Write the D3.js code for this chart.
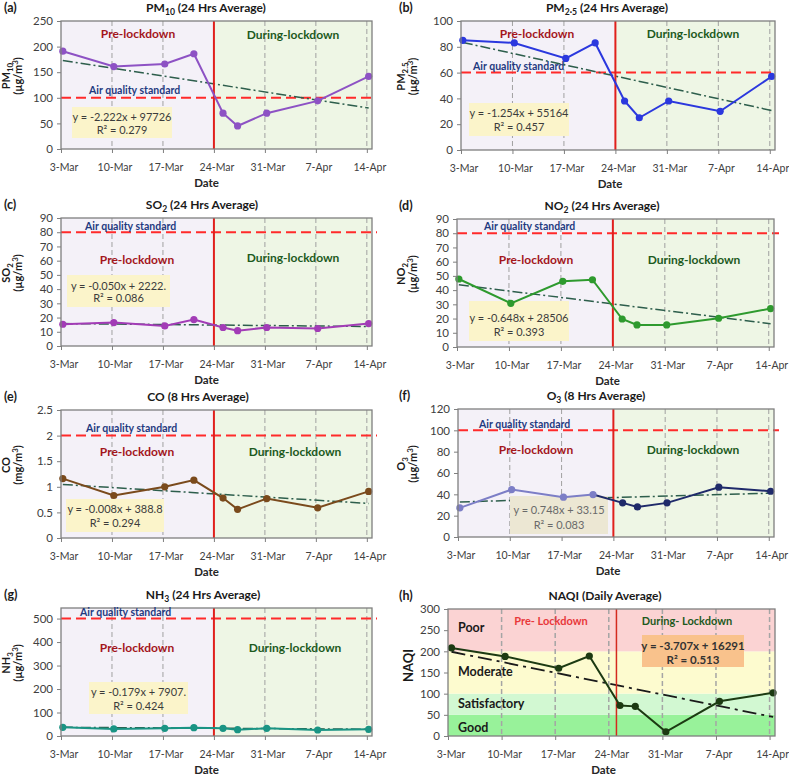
<!DOCTYPE html>
<html><head><meta charset="utf-8">
<script src="https://cdn.jsdelivr.net/npm/d3@7/dist/d3.min.js"></script>
<style>body{margin:0;background:#fff}svg{display:block;font-family:Lato,"Open Sans",sans-serif}</style>
</head><body><svg id="c" width="789" height="776"></svg>
<script>
// ---------- DATA ----------
const dates = ["2020-03-03","2020-03-10","2020-03-17","2020-03-21","2020-03-25","2020-03-27","2020-03-31","2020-04-07","2020-04-14"];
const weekDates = ["2020-03-03","2020-03-10","2020-03-17","2020-03-24","2020-03-31","2020-04-07","2020-04-14"];
const tickLabels = ["3-Mar","10-Mar","17-Mar","24-Mar","31-Mar","7-Apr","14-Apr"];

const pm10 = [191,161,166,186,70,45,70,94,142];
const pm25 = [85,83,71,83,38,25,38,30,57];
const so2  = [15.3,16.5,14.1,18.6,13,10.8,13,12.3,15.8];
const no2  = [47.8,30.7,46.2,47.3,19.7,15.5,15.5,20.2,27];
const co   = [1.16,0.83,1.0,1.13,0.78,0.56,0.77,0.59,0.91];
const o3   = [27.3,44.5,37.3,39.8,32,28.2,32,46.7,42.9];
const nh3  = [37,30,32.5,35.6,32.8,27,32.5,25.6,28.5];
const naqi = [208,188,160,189,72,70,10,82,102];

// trend line values at first and last date
const pm10Trend = [173,80];
const pm25Trend = [83.4,30.6];
const so2Trend  = [15.8,13.7];
const no2Trend  = [43.8,16.4];
const coTrend   = [1.045,0.675];
const o3Trend   = [32.9,41.1];
const nh3Trend  = [37,29];
const naqiTrend = [199,45];

const pm10Ticks = [0,50,100,150,200,250];
const pm25Ticks = [0,20,40,60,80,100];
const so2Ticks  = [0,10,20,30,40,50,60,70,80,90];
const no2Ticks  = [0,10,20,30,40,50,60,70,80,90];
const coTicks   = [0,0.5,1,1.5,2,2.5];
const o3Ticks   = [0,20,40,60,80,100,120];
const nh3Ticks  = [0,100,200,300,400,500];
const naqiTicks = [0,50,100,150,200,250,300];

const standards = {pm10:100, pm25:60, so2:80, no2:80, co:2, o3:100, nh3:500};
const equations = {
  pm10:["y = -2.222x + 97726","R² = 0.279"],
  pm25:["y = -1.254x + 55164","R² = 0.457"],
  so2:["y = -0.050x + 2222.","R² = 0.086"],
  no2:["y = -0.648x + 28506","R² = 0.393"],
  co:["y = -0.008x + 388.8","R² = 0.294"],
  o3:["y = 0.748x  + 33.15","R² = 0.083"],
  nh3:["y = -0.179x + 7907.","R² = 0.424"],
  naqi:["y = -3.707x + 16291","R² = 0.513"]
};
const naqiBands = [
  {name:"Good", lo:0, hi:50, color:"#98f29a"},
  {name:"Satisfactory", lo:50, hi:100, color:"#d2f8d2"},
  {name:"Moderate", lo:100, hi:200, color:"#fdfbcf"},
  {name:"Poor", lo:200, hi:300, color:"#fbd3d3"}
];

// ---------- DRAW ----------
const svg = d3.select("#c");
const parse = d3.utcParse("%Y-%m-%d");
const HOUR = 3600e3;

function rich(sel, parts, size){
  sel.attr("font-size", size);
  let pending = 0;
  parts.forEach(([t,m])=>{
    const ts = sel.append("tspan").text(t);
    let dy = -pending; pending = 0;
    if(m==="sub"){ const s = Math.round(size*0.25); dy += s; pending = s; ts.attr("font-size", size*0.72); }
    else if(m==="sup"){ const s = -Math.round(size*0.35); dy += s; pending = s; ts.attr("font-size", size*0.72); }
    else ts.attr("font-size", size);
    if(dy) ts.attr("dy", dy);
  });
}

const panels = [
 {key:"pm10", lab:"(a)", x0:61,x1:372,y0:21,y1:149, col:0, titleX:206, ymax:250,
  title:[["PM",""],["10","sub"],[" (24 Hrs Average)",""]],
  yl1:[["PM",""],["10","sub"]], yl2:[["(µg/m",""],["3","sup"],[")",""]],
  values:pm10, trend:pm10Trend, ticks:pm10Ticks, color:"#8d52c4",
  pre:[138,38], dur:[293,39], air:[89,94], box:[72,172,107,138], eqY:[121,134], off:6},
 {key:"pm25", lab:"(b)", x0:461,x1:775,y0:21,y1:150, col:395, titleX:607, ymax:100,
  title:[["PM",""],["2·5","sub"],[" (24 Hrs Average)",""]],
  yl1:[["PM",""],["2.5","sub"]], yl2:[["(µg/m",""],["3","sup"],[")",""]],
  values:pm25, trend:pm25Trend, ticks:pm25Ticks, color:"#2b38de",
  pre:[537,38], dur:[693,38], air:[473,70], box:[469,569,103,136], eqY:[117,131], off:6},
 {key:"so2", lab:"(c)", x0:61,x1:372,y0:218,y1:346, col:0, titleX:202, ymax:90,
  title:[["SO",""],["2","sub"],[" (24 Hrs Average)",""]],
  yl1:[["SO",""],["2","sub"]], yl2:[["(µg/m",""],["3","sup"],[")",""]],
  values:so2, trend:so2Trend, ticks:so2Ticks, color:"#a23cb6",
  pre:[137,264], dur:[293,262], air:[85,230], box:[67,170,275,307], eqY:[290,302], off:6},
 {key:"no2", lab:"(d)", x0:457,x1:774,y0:219,y1:347, col:395, titleX:602, ymax:90,
  title:[["NO",""],["2","sub"],[" (24 Hrs Average)",""]],
  yl1:[["NO",""],["2","sub"]], yl2:[["(µg/m",""],["3","sup"],[")",""]],
  values:no2, trend:no2Trend, ticks:no2Ticks, color:"#2e9a2e",
  pre:[536,264], dur:[694,264], air:[484,230], box:[469,569,301,341], eqY:[322,336], off:6},
 {key:"co", lab:"(e)", x0:61,x1:372,y0:410,y1:538, col:0, titleX:198, ymax:2.5,
  title:[["CO (8 Hrs Average)",""]],
  yl1:[["CO",""]], yl2:[["(mg/m",""],["3","sup"],[")",""]],
  values:co, trend:coTrend, ticks:coTicks, color:"#7a4a1c",
  pre:[137,456], dur:[295,456], air:[86,432], box:[66,164,499,532], eqY:[513,527], off:6},
 {key:"o3", lab:"(f)", x0:458,x1:774,y0:409,y1:537, col:395, titleX:596, ymax:120,
  title:[["O",""],["3","sub"],[" (8 Hrs Average)",""]],
  yl1:[["O",""],["3","sub"]], yl2:[["(µg/m",""],["3","sup"],[")",""]],
  values:o3, trend:o3Trend, ticks:o3Ticks, color:"#1f2a6a", preColor:"#7c7ec6",
  pre:[536,454], dur:[693,454], air:[479,428], box:[510,608,496,534], eqY:[514,529], off:6,
  boxFill:"#ece7d3", eqColor:"#6a6a6a"},
 {key:"nh3", lab:"(g)", x0:61,x1:372,y0:608,y1:736, col:0, titleX:203, ymax:545,
  title:[["NH",""],["3","sub"],[" (24 Hrs Average)",""]],
  yl1:[["NH",""],["3","sub"]], yl2:[["(µg/m",""],["3","sup"],[")",""]],
  values:nh3, trend:nh3Trend, ticks:nh3Ticks, color:"#1a9484",
  pre:[137,652], dur:[295,652], air:[80,615.5], box:[89,188,682,714], eqY:[696,710], off:6},
 {key:"naqi", lab:"(h)", x0:448,x1:775,y0:609,y1:736, col:395, titleX:605, ymax:300,
  title:[["NAQI (Daily Average)",""]],
  yl1:[["NAQI",""]], yl2:null,
  values:naqi, trend:naqiTrend, ticks:naqiTicks, color:"#1c3a12",
  pre:[551,625], dur:[687,625], box:[642,744,635,667], eqY:[650,664], off:11,
  bands:naqiBands, lockDate:"2020-03-25", boxFill:"#f9c28c", eqColor:"#333", eqBold:true}
];

const preFill = "#f4f1f8", durFill = "#eef6e5";

panels.forEach(p=>{
  const g = svg.append("g");
  const x = d3.scaleUtc().domain([parse("2020-03-03"), new Date(parse("2020-04-14").getTime()+17*HOUR)]).range([p.x0,p.x1]);
  const y = d3.scaleLinear().domain([0,p.ymax]).range([p.y1,p.y0]);
  const lock = parse(p.lockDate || "2020-03-24");
  const xp = d => x(new Date(parse(d).getTime()+p.off*HOUR));
  const H = p.y1-p.y0;

  // backgrounds
  if(p.bands){
    p.bands.forEach(b=>{
      g.append("rect").attr("x",p.x0).attr("width",p.x1-p.x0)
       .attr("y",y(b.hi)).attr("height",y(b.lo)-y(b.hi)).attr("fill",b.color);
    });
  } else {
    g.append("rect").attr("x",p.x0).attr("y",p.y0).attr("width",x(lock)-p.x0).attr("height",H).attr("fill",preFill);
    g.append("rect").attr("x",x(lock)).attr("y",p.y0).attr("width",p.x1-x(lock)).attr("height",H).attr("fill",durFill);
  }
  // vertical dashed grid
  weekDates.slice(1).forEach(d=>{
    const dd = parse(d);
    if(!p.bands && +dd===+lock) return;
    g.append("line").attr("x1",x(dd)).attr("x2",x(dd)).attr("y1",p.y0).attr("y2",p.y1)
     .attr("stroke", p.bands?"#a5a5a5":"#a0a0a0").attr("stroke-width",p.bands?1.5:1).attr("stroke-dasharray","5,3");
  });
  // standard line
  if(standards[p.key]!==undefined){
    g.append("line").attr("x1",p.x0).attr("x2",p.x1+ (p.key==="pm10"||p.key==="pm25"?0:5))
     .attr("y1",y(standards[p.key])).attr("y2",y(standards[p.key]))
     .attr("stroke","#ff2a2a").attr("stroke-width",2).attr("stroke-dasharray","10,5");
  }
  // trend line
  g.append("line").attr("x1",xp(dates[0])).attr("x2",xp(dates[dates.length-1]))
   .attr("y1",y(p.trend[0])).attr("y2",y(p.trend[1]))
   .attr("stroke",p.bands?"#1a1a1a":"#2d5e4c").attr("stroke-width",p.bands?1.8:1.5)
   .attr("stroke-dasharray",p.bands?"14,5,3,5":"10,3,2,3");
  // equation box
  const [bx0,bx1,by0,by1] = p.box;
  g.append("rect").attr("x",bx0).attr("y",by0).attr("width",bx1-bx0).attr("height",by1-by0)
   .attr("fill",p.boxFill||"#fbf4ca");
  equations[p.key].forEach((t,i)=>{
    g.append("text").attr("x",(bx0+bx1)/2).attr("y",p.eqY[i]).attr("text-anchor","middle")
     .attr("font-size",p.eqBold?11.5:11).attr("font-weight",p.eqBold?"bold":"normal")
     .attr("fill",p.eqColor||"#3c3c3c").text(t);
  });
  // lockdown line
  g.append("line").attr("x1",x(lock)).attr("x2",x(lock)).attr("y1",p.y0).attr("y2",p.y1)
   .attr("stroke",p.bands?"#d42a1e":"#e0201c").attr("stroke-width",p.bands?1.5:2);
  // data
  const pts = dates.map((d,i)=>({d, v:p.values[i]}));
  const line = d3.line().x(o=>xp(o.d)).y(o=>y(o.v));
  if(p.preColor){
    g.append("path").attr("d",line(pts.slice(0,4))).attr("fill","none").attr("stroke",p.preColor).attr("stroke-width",2);
    g.append("path").attr("d",line(pts.slice(3))).attr("fill","none").attr("stroke",p.color).attr("stroke-width",2);
  } else {
    g.append("path").attr("d",line(pts)).attr("fill","none").attr("stroke",p.color).attr("stroke-width",2);
  }
  g.selectAll("circle.pt").data(pts).join("circle").attr("cx",o=>xp(o.d)).attr("cy",o=>y(o.v)).attr("r",3.6)
   .attr("fill",(o,i)=> p.preColor && i<4 ? p.preColor : p.color);
  // border
  g.append("rect").attr("x",p.x0).attr("y",p.y0).attr("width",p.x1-p.x0).attr("height",H)
   .attr("fill","none").attr("stroke","#7f7f7f").attr("stroke-width",1.3);
  // axes
  const ya = g.append("g").attr("transform",`translate(${p.x0},0)`)
    .call(d3.axisLeft(y).tickValues(p.ticks).tickSize(4).tickPadding(4).tickFormat(d3.format("~g")));
  ya.select(".domain").remove();
  ya.selectAll("line").attr("stroke","#7f7f7f");
  ya.selectAll("text").attr("font-size",11.5).attr("fill","#404040").attr("font-family","Lato,sans-serif");
  const xa = g.append("g").attr("transform",`translate(0,${p.y1})`)
    .call(d3.axisBottom(x).tickValues(weekDates.map(parse)).tickSize(4).tickFormat((d,i)=>tickLabels[i]));
  xa.select(".domain").remove();
  xa.selectAll("line").attr("stroke","#7f7f7f");
  xa.selectAll("text").attr("dy",null).attr("y",22).attr("dx",2.5).attr("font-size",10.5)
    .attr("fill","#404040").attr("font-family","Lato,sans-serif");
  g.append("text").attr("x",(p.x0+p.x1)/2 - (p.col?8:10)).attr("y",p.y1+38).attr("text-anchor","middle")
   .attr("font-weight","bold").attr("font-size",11.5).attr("fill","#262626").text("Date");
  // title + label
  rich(g.append("text").attr("x",p.titleX).attr("y",p.y0-9).attr("text-anchor","middle")
   .attr("font-weight","bold").attr("fill","#1a1a1a"), p.title, 12);
  g.append("text").attr("x",p.col+4).attr("y",p.y0-9).attr("font-weight","bold").attr("font-size",12.5)
   .attr("fill","#1a1a1a").text(p.lab);
  // y label
  const cy = (p.y0+p.y1)/2 - 9;
  if(p.yl2){
    rich(g.append("text").attr("transform",`translate(${p.col+10},${cy}) rotate(-90)`).attr("text-anchor","middle")
      .attr("font-weight","bold").attr("fill","#1a1a1a"), p.yl1, 11);
    rich(g.append("text").attr("transform",`translate(${p.col+22},${cy}) rotate(-90)`).attr("text-anchor","middle")
      .attr("font-weight","bold").attr("fill","#1a1a1a"), p.yl2, 11);
  } else {
    rich(g.append("text").attr("transform",`translate(${p.col+18},${cy+2}) rotate(-90)`).attr("text-anchor","middle")
      .attr("font-weight","bold").attr("fill","#1a1a1a"), p.yl1, 13);
  }
  // annotations
  if(p.bands){
    const lbl = {Poor:632, Moderate:676, Satisfactory:708, Good:732};
    p.bands.forEach(b=>{
      g.append("text").attr("x",p.x0+10).attr("y",lbl[b.name]).attr("font-weight","bold").attr("font-size",12.5)
       .attr("fill","#1a1a1a").text(b.name);
    });
    g.append("text").attr("x",p.pre[0]).attr("y",p.pre[1]).attr("text-anchor","middle").attr("font-weight","bold")
     .attr("font-size",11).attr("fill","#e8383a").text("Pre- Lockdown");
    g.append("text").attr("x",p.dur[0]).attr("y",p.dur[1]).attr("text-anchor","middle").attr("font-weight","bold")
     .attr("font-size",11).attr("fill","#1d5a1d").text("During- Lockdown");
  } else {
    g.append("text").attr("x",p.pre[0]).attr("y",p.pre[1]).attr("text-anchor","middle").attr("font-weight","bold")
     .attr("font-size",12).attr("fill","#a3161c").text("Pre-lockdown");
    g.append("text").attr("x",p.dur[0]).attr("y",p.dur[1]).attr("text-anchor","middle").attr("font-weight","bold")
     .attr("font-size",12).attr("fill","#1d5a1d").text("During-lockdown");
    g.append("text").attr("x",p.air[0]).attr("y",p.air[1]).attr("font-weight","bold")
     .attr("font-size",10.5).attr("fill","#1f3a80").text("Air quality standard");
  }
});
</script></body></html>
